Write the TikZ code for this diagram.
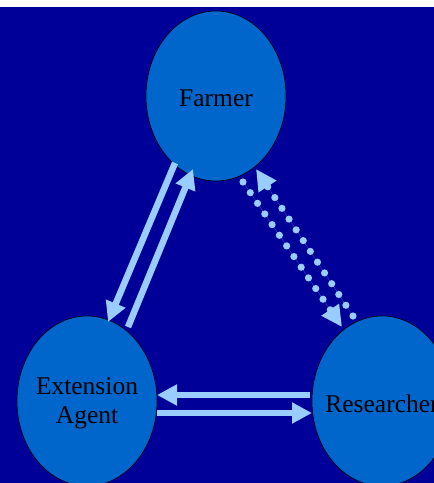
\documentclass[tikz,border=0pt]{standalone}
\usepackage{fontspec}
\setmainfont{Liberation Serif}
\usetikzlibrary{shapes.geometric,arrows.meta,calc}
\definecolor{slidebg}{HTML}{000099}
\definecolor{bubble}{HTML}{0066CC}
\definecolor{flow}{HTML}{99CCFF}
\begin{document}
\begin{tikzpicture}[x=1pt,y=-1pt,
  actor/.style={ellipse,draw=black,line width=0.6pt,fill=bubble,
    minimum width=140pt,minimum height=170pt,inner sep=0pt,
    label={[actortext]center:#1}},
  actortext/.style={align=center,font=\fontsize{25.5}{29}\selectfont,
    text=black,inner sep=0pt,yshift=-2.5pt},
  solidflow/.style={draw=flow,line width=6.5pt,-{Triangle[length=20pt,width=20pt]},fill=flow},
  dotflow/.style={draw=flow,line width=7.2pt,line cap=round,dash pattern=on 0pt off 12.9pt,
    -{Triangle[length=21pt,width=20pt]},fill=flow}]
  % page and backdrop
  \fill[white] (0,0) rectangle (434,483);
  \clip (0,0) rectangle (434,483);
  \fill[slidebg] (0,7) rectangle (434,483);

  % the three actors
  \node[actor=Farmer] (farmer) at (216,96) {};
  \node[actor={Extension\\Agent}] (agent) at (87,401) {};
  \node[actor=Researcher] (researcher) at (382,401) {};

  % farmer <-> extension agent
  \draw[solidflow] ($(farmer)+(-41,67)$) -- ($(agent)+(21,-79)$);
  \draw[solidflow] ($(agent)+(41,-74)$) -- ($(farmer)+(-23,73)$);

  % extension agent <-> researcher
  \draw[solidflow] ($(researcher)+(-72,-6)$) -- ($(agent)+(70,-6)$);
  \draw[solidflow] ($(agent)+(70,12)$) -- ($(researcher)+(-70,12)$);

  % farmer <-> researcher (dotted)
  \draw[dotflow] ($(farmer)+(27,86)$) -- ($(researcher)+(-40,-74)$);
  \draw[dotflow] ($(researcher)+(-29,-85)$) -- ($(farmer)+(40,73)$);
\end{tikzpicture}
\end{document}
